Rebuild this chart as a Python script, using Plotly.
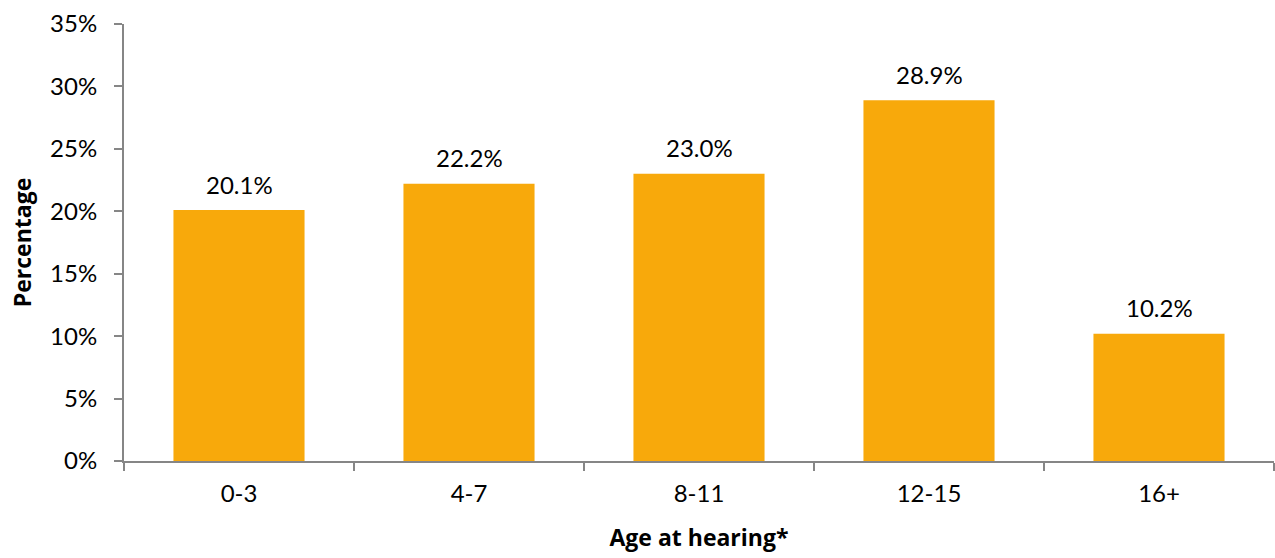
import plotly.graph_objects as go

categories = ["0-3", "4-7", "8-11", "12-15", "16+"]
values = [20.1, 22.2, 23.0, 28.9, 10.2]
labels = ["20.1%", "22.2%", "23.0%", "28.9%", "10.2%"]
y_ticks = [0, 5, 10, 15, 20, 25, 30, 35]
y_ticklabels = ["0%", "5%", "10%", "15%", "20%", "25%", "30%", "35%"]

FONT = "Lato"
TITLE_FONT = "Open Sans"
AXIS = "#868686"

fig = go.Figure()
fig.add_trace(go.Bar(x=categories, y=values, marker=dict(color="#F8A90B", line=dict(width=0)),
                     hoverinfo="skip"))

for c, v, t in zip(categories, values, labels):
    fig.add_annotation(x=c, y=v, text=t, showarrow=False, yanchor="middle", yshift=26,
                       font=dict(family=FONT, size=24, color="#000000"))

fig.update_layout(
    width=1275, height=558,
    margin=dict(l=124, r=1, t=24, b=97),
    plot_bgcolor="white", paper_bgcolor="white",
    bargap=0.43,
    showlegend=False,
    font=dict(family=FONT, size=24, color="#000000"),
)
fig.update_xaxes(
    showline=True, linecolor=AXIS, linewidth=2,
    ticks="outside", tickson="boundaries", ticklen=8, tickwidth=2, tickcolor=AXIS,
    ticklabelstandoff=10,
    showgrid=False,
    title=dict(text="<b>Age at hearing*</b>", font=dict(family=TITLE_FONT, size=23), standoff=24),
)
fig.update_yaxes(
    range=[0, 35], tickvals=y_ticks, ticktext=y_ticklabels,
    showline=True, linecolor=AXIS, linewidth=2,
    ticks="outside", ticklen=8, tickwidth=2, tickcolor=AXIS,
    ticklabelstandoff=12,
    showgrid=False, zeroline=False,
    title=dict(text="<b>Percentage</b>", font=dict(family=TITLE_FONT, size=23), standoff=12),
)

fig.write_html("out.html")
